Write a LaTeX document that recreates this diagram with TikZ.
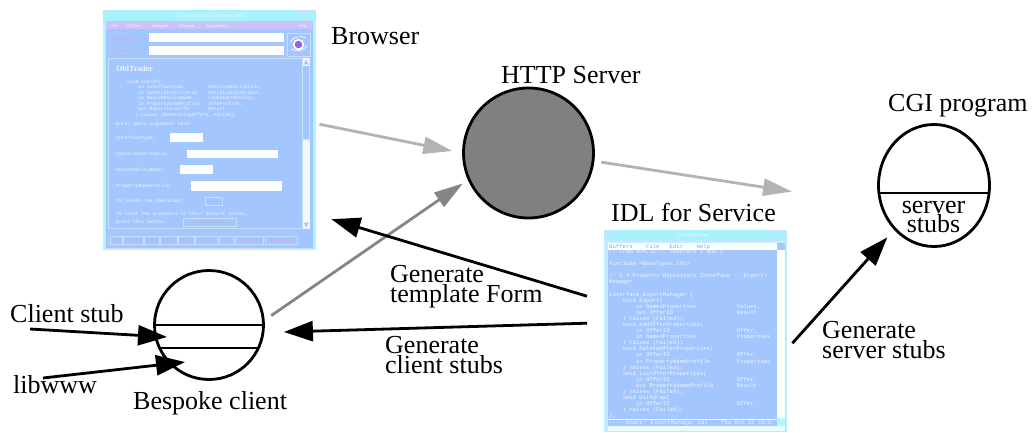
\documentclass[tikz,border=0pt]{standalone}
\usepackage{fontspec}
\setmainfont{Liberation Serif}
\newfontfamily\codefont{Liberation Mono}
\newfontfamily\uifont{Liberation Sans}
\usetikzlibrary{arrows.meta,shapes.geometric,calc}

\definecolor{winaqua}{HTML}{B4F6FF}
\definecolor{wintitle}{HTML}{A8F2FC}
\definecolor{winmenu}{HTML}{C9C3F7}
\definecolor{winblue}{HTML}{A3C6FF}
\definecolor{winline}{HTML}{C8E0FF}
\definecolor{wintext}{HTML}{F2F6FF}
\definecolor{winpink}{HTML}{E6A0C4}
\definecolor{lightarrow}{HTML}{B3B3B3}
\definecolor{darkarrow}{HTML}{858585}
\definecolor{serverfill}{HTML}{808080}

% fixed-pitch gap of n character cells
\newcommand\colgap[1]{\hspace*{#1\dimexpr0.6em\relax}}

\begin{document}
\begin{tikzpicture}[x=1pt,y=-1pt,
  lbl/.style={font=\fontsize{26}{20}\selectfont, inner sep=0pt, anchor=base west, align=left},
  process/.style={draw, line width=2.8pt, inner sep=0pt},
  flow/.style={line width=2.8pt, -{Triangle[length=29pt,width=20pt]}},
  webflow/.style={line width=2.8pt, -{Triangle[length=29pt,width=17pt]}},
  bcode/.style={font=\codefont\fontsize{4.67}{5}\selectfont, text=wintext, inner sep=0pt, anchor=base west},
  icode/.style={font=\codefont\fontsize{5.6}{6}\selectfont, text=wintext, inner sep=0pt, anchor=base west},
  uitext/.style={font=\uifont\fontsize{5}{5}\selectfont, text=wintext, inner sep=0pt},
  menuitem/.style={font=\uifont\itshape\fontsize{4}{4}\selectfont, text=wintext, inner sep=0pt, anchor=base west},
  pinktext/.style={font=\uifont\fontsize{3.6}{4}\selectfont, text=winpink, inner sep=0pt},
  uibutton/.style={draw=winline, line width=0.5pt},
  chrome/.style={draw=winline, line width=0.5pt}]

\useasboundingbox (0,0) rectangle (1034,433);

% ---------------- Mosaic browser window ----------------
\node[fill=winaqua, minimum width=213pt, minimum height=240pt, inner sep=0pt, anchor=north west] (browser) at (103,10) {};
\fill[wintitle] (103,10) rectangle (316,21);
\draw[chrome] (103.5,10.5) rectangle (111,21) (298,10.5) rectangle (306,21) (306,10.5) rectangle (315.5,21);
\node[uitext] (mosaictitle) at (210,15.8) {NCSA Mosaic: Document View};
\draw[chrome] (105.5,21) rectangle (313.5,248);
\fill[winmenu] (106,21.5) rectangle (313,29);
\foreach \item/\xx [count=\k] in {File/112, Options/127, Navigate/152, Annotate/179, Documents/207, Help/298}
  \node[menuitem] (menu\k) at (\xx,27.5) {\item};
\fill[winblue] (106,29) rectangle (313,247.5);
\node[pinktext, anchor=base west] (doctitle) at (112,40) {Document Title:};
\node[pinktext, anchor=base west] (docurl) at (112,53) {Document URL:};
\fill[white] (149,33) rectangle (284,42.5);
\fill[white] (149,46) rectangle (284,55.5);
\draw[chrome, fill=winblue] (287,33) rectangle (310,56);
\fill[white] (298.5,44.5) circle (5.6);
\fill[violet!55!blue!60] (298.5,44.5) circle (3.8);
\draw[white, line width=0.6pt] (291,49) .. controls (296,53) and (304,50) .. (307,46);
\draw[white, line width=0.6pt] (290,42) .. controls (293,37) and (301,35) .. (306,38);
% document area and scroll bar
\draw[chrome, line width=0.8pt] (108,58) rectangle (302,228.5);
\fill[wintext] (302.5,58.5) rectangle (310,228.5);
\fill[winline] (303,66) rectangle (309.5,140);
\fill[winblue] (303.3,66.5) rectangle (309.2,139.5);
\fill[winblue] (306.2,59.5) -- (303.6,64.5) -- (308.8,64.5) -- cycle;
\fill[winblue] (306.2,227.5) -- (303.6,222.5) -- (308.8,222.5) -- cycle;
\node[font=\bfseries\fontsize{8}{8}\selectfont, text=wintext, inner sep=0pt, anchor=base west] (oldtrader) at (116,72) {OldTrader};
\foreach \txt [count=\i from 0] in {
  {void search(},
  {\colgap4in InterfaceType\colgap9ServiceDescription,},
  {\colgap4in ConstraintCriteria\colgap4MatchingConstraint,},
  {\colgap4in SearchPolicyName\colgap6LinkSearchPolicy,},
  {\colgap4in PropertyNameProfile\colgap3InfoProfile,},
  {\colgap4out RepositoryInfo\colgap7Result},
  {\colgap3) raises (NoMatchingOffers, Failed);}}
  \node[bcode] (bcode\i) at (127,{83.5+5.42*\i}) {\txt};
\node[bcode] (askline) at (116,126) {Enter query arguments here:};
\node[bcode] (qtype) at (116,139.5) {InterfaceType:};
\fill[white] (170,133.5) rectangle (203,142.5);
\node[bcode] (qcrit) at (116,155.5) {ConstraintCriteria:};
\fill[white] (187,150) rectangle (278,158.5);
\node[bcode] (qpolicy) at (116,171.5) {SearchPolicyName:};
\fill[white] (180,165.5) rectangle (213,174);
\node[bcode] (qprofile) at (116,187) {PropertyNameProfile:};
\fill[white] (191,181.5) rectangle (282,191);
\node[bcode] (qinvoke) at (116,202) {To invoke the operation:};
\draw[uibutton] (205,197) rectangle (222,205);
\node[pinktext, font=\uifont\fontsize{3}{3}\selectfont] (searchbtn) at (213.5,201.2) {Search};
\node[bcode] (qreset) at (116,215.5) {To reset the arguments to their default states,};
\node[bcode] (qpress) at (116,223) {press this button:};
\draw[uibutton] (183,218) rectangle (236,226);
\node[pinktext, font=\uifont\fontsize{3}{3}\selectfont] (resetbtn) at (209.5,222.2) {Reset To Default Values};
% button row
\foreach \name/\xa/\xb [count=\k] in {Back/110.5/122.5, Forward/123.5/143, Home/144.5/159, Reload/160.5/177,
    Open{...}/178.5/194, Save As{...}/195.5/217, Clone/219/233, New Window/235/263.5, Close Window/265.5/297}
{
  \draw[uibutton] (\xa,236) rectangle (\xb,244.5);
  \node[pinktext] (btn\k) at ({(\xa+\xb)/2},240.3) {\name};
}

% ---------------- Emacs window with the IDL ----------------
\node[fill=winaqua, minimum width=183pt, minimum height=202pt, inner sep=0pt, anchor=north west] (idl) at (604,230) {};
\fill[wintitle] (604,230) rectangle (787,240.5);
\draw[chrome] (604.5,230.5) rectangle (612,240.5) (770,230.5) rectangle (778,240.5) (778,230.5) rectangle (786.5,240.5);
\node[uitext, font=\uifont\fontsize{4}{4}\selectfont] (emacstitle) at (693,235.5) {emacs@sassaby};
\draw[chrome] (606.5,240.5) rectangle (785.5,431);
\fill[white] (608,243) rectangle (776.5,249.5);
\node[icode, text=winblue!80!blue] (emacsmenu) at (609,248) {Buffers\colgap4File\colgap3Edit\colgap4Help};
\fill[winblue] (777,243) rectangle (784.5,250);
\fill[white] (777,250) rectangle (784.5,418);
\fill[winblue] (608,249.5) rectangle (776.5,426);
\begin{scope}
\clip (608,249.5) rectangle (776.5,426);
\foreach \txt [count=\i from 0] in {
  {// From APM.1177, chapters 4 and 5},
  {},
  {\#include <BaseTypes.idl>},
  {},
  {// 5.4 Property Repository Interface -{}- Export\textbackslash},
  {Manager},
  {},
  {interface ExportManager \{},
  {\colgap4void Export(},
  {\colgap8in NamedProperties\colgap{12}Values,},
  {\colgap8out OfferID\colgap{19}Result},
  {\colgap4) raises (Failed);},
  {\colgap4void AddOfferProperties(},
  {\colgap8in OfferID\colgap{20}Offer,},
  {\colgap8in NamedProperties\colgap{12}Properties},
  {\colgap4) raises (Failed);},
  {\colgap4void DeleteOfferProperties(},
  {\colgap8in OfferID\colgap{20}Offer,},
  {\colgap8in PropertyNameProfile\colgap8Properties},
  {\colgap4) raises (Failed);},
  {\colgap4void ListOfferProperties(},
  {\colgap8in OfferID\colgap{20}Offer,},
  {\colgap8out PropertyNameProfile\colgap7Result},
  {\colgap4) raises (Failed);},
  {\colgap4void Withdraw(},
  {\colgap8in OfferID\colgap{20}Offer},
  {\colgap4) raises (Failed);},
  {\};}}
  \node[icode] (idlline\i) at (609,{253.5+6.085*\i}) {\txt};
\draw[wintext, line width=0.6pt] (608,419) -- (776.5,419);
\node[icode] (modeline) at (609,424.5) {-{}-{}-{}-{}-Emacs: ExportManager.idl\colgap4Thu Oct 13 10:5};
\end{scope}
\fill[white!70!winaqua] (608,426) rectangle (784.5,430.5);

% ---------------- processes ----------------
\node[process, circle, minimum size=130pt, fill=serverfill] (http) at (528.5,153) {};
\node[process, circle, minimum size=109pt] (bespoke) at (209,325) {};
\node[process, ellipse, minimum width=111pt, minimum height=122pt] (cgi) at (934,185.5) {};
\draw[line width=1.8pt] (154.5,325) -- (263.5,325);
\draw[line width=1.8pt] (159.6,348) -- (258.4,348);
\draw[line width=1.8pt] (878.9,193) -- (989.1,193);

% ---------------- labels (multi-line ones sit on their last baseline) ----------------
\node[lbl] (browserlabel) at (331,45) {Browser};
\node[lbl] (httplabel) at (501,84) {HTTP Server};
\node[lbl] (idllabel) at (611,222) {IDL for Service};
\node[lbl] (cgilabel) at (888,112) {CGI program};
\node[lbl, align=center, anchor=base] (stublabel) at (933.5,233) {server\\stubs};
\node[lbl] (tpllabel) at (390,302) {Generate\\template Form};
\node[lbl] (genclientlabel) at (385,373) {Generate\\client stubs};
\node[lbl] (genserverlabel) at (822,358) {Generate\\server stubs};
\node[lbl] (clientstubtext) at (10,322) {Client stub};
\node[lbl] (libwwwtext) at (13,393) {libwww};
\node[lbl] (bespoketext) at (133,409) {Bespoke client};

% ---------------- connectors ----------------
\coordinate (stubfrom) at (30,329);
\coordinate (libfrom) at (43,378);
\draw[webflow, lightarrow, shorten >=10pt] ([xshift=3pt,yshift=6pt]browser.east) -- (http.180);
\draw[webflow, darkarrow, shorten <=8pt, shorten >=6pt] (bespoke.5) -- (http.204);
\draw[webflow, lightarrow, shorten <=7pt, shorten >=89pt] (http.353) -- (cgi.200);
\draw[flow] ([shift={(-17pt,35pt)}]idl.west) -- ([shift={(15pt,-89pt)}]browser.east);
\draw[flow] ([shift={(-17pt,8pt)}]idl.west) -- ([shift={(19pt,-7pt)}]bespoke.east);
\draw[flow, shorten >=10pt] ([shift={(5pt,-12pt)}]idl.east) -- (cgi.228);
\draw[flow] (stubfrom) -- ($(bespoke)+(-42,12)$);
\draw[flow] (libfrom) -- ($(bespoke)+(-24,37)$);
\end{tikzpicture}
\end{document}
